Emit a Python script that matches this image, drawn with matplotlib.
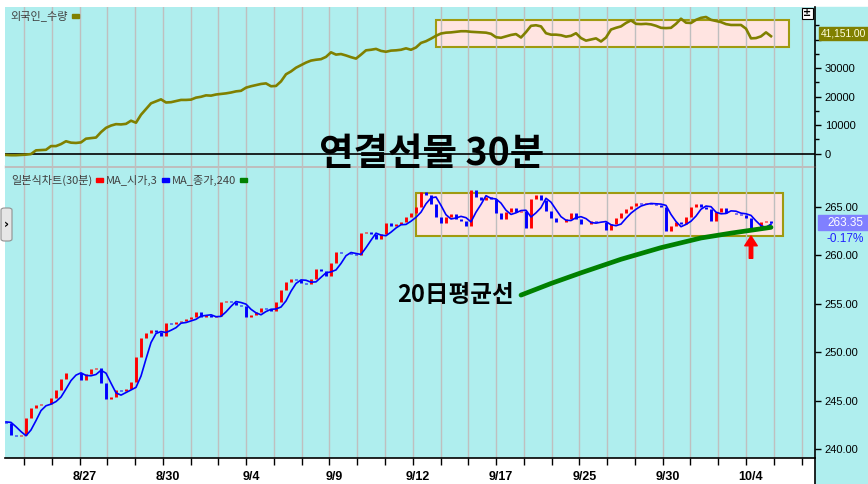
import numpy as np
import pandas as pd
import matplotlib
matplotlib.use('Agg')
import matplotlib.pyplot as plt
from matplotlib.patches import Rectangle, FancyBboxPatch
from matplotlib.lines import Line2D
from matplotlib.transforms import ScaledTranslation

plt.rcParams['font.family'] = ['Liberation Sans', 'Noto Sans CJK KR', 'DejaVu Sans']
KR = ['Noto Sans CJK KR', 'DejaVu Sans']

# ==========================================
# Data (one value per bar)
# ==========================================
closes = [
    242.7, 241.4, 241.3, 241.4, 243.2, 244.2, 244.5, 244.7, 244.7, 245.3,
    246.1, 247.2, 247.9, 247.8, 247.9, 247.1, 247.7, 248.3, 248.4, 246.8,
    245.2, 245.4, 246.1, 246.0, 246.2, 246.9, 249.5, 251.5, 252.0, 252.3,
    252.1, 251.7, 253.0, 252.9, 253.1, 253.2, 253.4, 253.6, 254.2, 253.6,
    253.8, 253.6, 253.7, 255.2, 255.3, 255.2, 254.9, 254.8, 253.6, 253.8,
    254.2, 254.6, 254.5, 254.3, 255.2, 256.4, 257.3, 257.6, 257.5, 257.2,
    257.0, 257.6, 258.6, 258.4, 257.9, 259.2, 260.4, 260.3, 260.2, 260.1,
    260.0, 262.3, 262.4, 262.2, 261.7, 262.2, 263.3, 263.0, 263.2, 263.4,
    264.0, 264.4, 265.0, 266.6, 266.2, 265.3, 264.0, 263.3, 264.0, 264.3,
    263.8, 263.6, 263.0, 266.8, 266.0, 265.7, 266.0, 265.8, 264.4, 263.8,
    264.5, 264.9, 264.5, 264.6, 262.8, 265.8, 266.2, 265.7, 264.6, 263.9,
    263.5, 263.5, 263.8, 264.4, 263.8, 263.2, 263.2, 263.6, 263.5, 263.4,
    262.6, 263.2, 263.9, 264.4, 264.8, 265.1, 265.4, 265.3, 265.4, 265.3,
    265.2, 265.0, 262.5, 263.0, 263.4, 263.2, 264.0, 265.0, 265.3, 265.0,
    264.8, 263.6, 264.5, 264.9, 264.4, 264.4, 264.3, 264.2, 263.9, 262.6,
    262.7, 263.4, 263.6, 263.35,
]

foreign = [
    -500, -600, -600, -500, -400, -200, 1100, 1200, 1300, 2600,
    2600, 3300, 4300, 3800, 3700, 3900, 5200, 5400, 5600, 7500,
    9000, 9800, 10300, 10200, 10400, 11500, 10800, 13600, 15600, 17600,
    18300, 19000, 17900, 18000, 18400, 18800, 18800, 18900, 19600, 19900,
    20400, 20300, 20700, 20900, 21100, 21400, 21800, 22000, 23100, 23600,
    24000, 24400, 24600, 23600, 23700, 25300, 27800, 28800, 30100, 31000,
    31900, 32600, 32900, 33100, 33900, 35500, 34700, 34900, 34400, 33800,
    33300, 34700, 36200, 36400, 36700, 36000, 35700, 36100, 36200, 36400,
    36900, 36400, 37200, 38800, 39400, 40300, 41300, 42100, 42400, 42500,
    42700, 42900, 42900, 42700, 42600, 42500, 42400, 42000, 40800, 40600,
    41100, 41600, 41900, 40700, 42600, 44800, 45000, 44600, 42200, 41700,
    41700, 41500, 41000, 41300, 42200, 40500, 39600, 40000, 40400, 39300,
    40700, 43500, 44100, 44600, 45800, 46700, 45500, 45400, 45500, 45300,
    44800, 44100, 44000, 44100, 45500, 47300, 45900, 45800, 46900, 47600,
    47900, 46900, 46500, 46100, 45400, 45100, 45100, 45100, 43800, 40400,
    40500, 41100, 42500, 41151,
]

ma240_bar = [103, 109, 115, 123, 131, 139, 145, 153]
ma240_val = [255.9, 257.1, 258.2, 259.6, 260.8, 261.8, 262.3, 262.9]

day_labels = ['8/27', '8/30', '9/4', '9/9', '9/12', '9/17', '9/25', '9/30', '10/4']
label_days = [2, 5, 8, 11, 14, 17, 20, 23, 26]
n_days = 29
first_day = 3.6
bars_per_day = 5.554

last_foreign = '41,151.00'
last_price = '263.35'
last_change = '-0.17%'

BG = '#AFEEEE'
OLIVE = '#808000'

# ==========================================
# Layout
# ==========================================
W, H = 868, 484
fig = plt.figure(figsize=(W / 100, H / 100), dpi=100)
fig.patch.set_facecolor('white')


def fx(px):
    return px / W


def fy(py):
    return 1 - py / H


def px_rect(x0, y0, x1, y1, **kw):
    return Rectangle((fx(x0), fy(y1)), (x1 - x0) / W, (y1 - y0) / H,
                     transform=fig.transFigure, **kw)


fig.add_artist(px_rect(815, 7, 868, 484, color=BG, zorder=-2))

ax1 = fig.add_axes([fx(5), fy(166), fx(815) - fx(5), fy(7) - fy(166)])
ax2 = fig.add_axes([fx(5), fy(458), fx(815) - fx(5), fy(168) - fy(458)], sharex=ax1)
fig.add_artist(px_rect(5, 165.5, 815, 168.5, color='#BEBEBE', zorder=-1))

x = np.arange(len(closes))
day_x = first_day + bars_per_day * np.arange(n_days)

for ax in (ax1, ax2):
    ax.set_facecolor(BG)
    ax.set_xticks(day_x[label_days])
    ax.set_xticks(day_x, minor=True)
    ax.grid(True, axis='x', which='both', color='#BFBFBF', lw=1.0)
    ax.yaxis.tick_right()
    ax.tick_params(axis='y', which='both', direction='out', length=4, width=1,
                   labelsize=8, pad=3, colors='black')
    for s in ('left', 'top'):
        ax.spines[s].set_visible(False)
    ax.spines['right'].set_color('black')
    ax.spines['right'].set_linewidth(1.2)
ax1.spines['bottom'].set_visible(False)
ax1.set_xlim(-0.2, 161.8)

# ---------- top panel: foreign position ----------
ax1.plot(x, foreign, color=OLIVE, lw=1.9, zorder=4)
ax1.axhline(0, color='black', lw=1.2, zorder=3)
ax1.set_ylim(-4386, 51404)
ax1.set_yticks([0, 10000, 20000, 30000, 40000])
ax1.set_yticklabels(['0', '10000', '20000', '30000', ''])
ax1.set_yticks([5000, 15000, 25000, 35000, 45000], minor=True)
ax1.tick_params(axis='y', which='minor', length=3)
ax1.tick_params(axis='x', which='both', length=0, labelbottom=False)
ax1.add_patch(Rectangle((86, 37400), 70.6, 9400, facecolor='#FFE4E1',
                        edgecolor='#A09A10', lw=1.5, zorder=1))

# ---------- lower panel: 30 min candles ----------
c = np.array(closes)
o = np.r_[c[0] + 0.1, c[:-1]]
up = c >= o
ax2.add_patch(Rectangle((82, 262.0), 73.4, 4.45, facecolor='#FFE4E1',
                        edgecolor='#A09A10', lw=1.5, zorder=1))
ax2.vlines(x[up], o[up], c[up], color='#FF0000', lw=2.1, zorder=3)
ax2.vlines(x[~up], o[~up], c[~up], color='#0000FF', lw=2.1, zorder=3)
ma_open = pd.Series(o).rolling(3, min_periods=1).mean()
ax2.plot(x, ma_open, color='#0000FF', lw=1.2, zorder=4)
ax2.plot(ma240_bar, ma240_val, color='#008000', lw=3.4, zorder=5,
         solid_capstyle='round')

ax2.set_ylim(239.07, 269.03)
ax2.set_yticks(np.arange(240, 266, 5))
ax2.set_yticklabels([f'{v:.2f}' for v in np.arange(240, 266, 5)])
ax2.set_xticklabels(day_labels)
ax2.tick_params(axis='x', which='both', direction='out', length=5, width=1,
                colors='black', pad=4)
for lbl in ax2.get_xticklabels():
    lbl.set_fontfamily(['Liberation Sans Narrow', 'Liberation Sans'])
    lbl.set_fontweight('bold')
    lbl.set_fontsize(9)
    lbl.set_transform(lbl.get_transform() + ScaledTranslation(0.05, 0, fig.dpi_scale_trans))
ax2.spines['top'].set_visible(False)
ax2.spines['bottom'].set_color('black')
ax2.spines['bottom'].set_linewidth(1.2)
fig.add_artist(Line2D([fx(815), fx(815)], [fy(458), 0], color='black', lw=1.2,
                      transform=fig.transFigure))

ax2.text(78.2, 255.9, '20日평균선', fontsize=17, fontweight='bold',
         family=KR, va='center', ha='left', zorder=6)
ax2.annotate('', xy=(149, 262.0), xytext=(149, 259.7),
             arrowprops=dict(facecolor='#FF0000', edgecolor='#FF0000',
                             width=2.5, headwidth=9, headlength=7, shrink=0),
             zorder=6)

# ---------- legends ----------
renderer = fig.canvas.get_renderer()


def legend_row(x0, y0, items):
    xp = x0
    for label, color in items:
        t = fig.text(fx(xp), fy(y0), label, fontsize=8, color='#404040',
                     family=KR, va='center', ha='left')
        bb = t.get_window_extent(renderer)
        xp += bb.width + 4
        fig.add_artist(px_rect(xp, y0 - 1.5, xp + 7, y0 + 1.5, color=color))
        xp += 10


legend_row(10, 16, [('외국인_수량', OLIVE)])
legend_row(11, 180, [('일본식차트(30분)', '#FF0000'), ('MA_시가,3', '#0000FF'),
                     ('MA_종가,240', '#008000')])

fig.text(fx(432), fy(154), '연결선물 30분', fontsize=27, fontweight='bold',
         family=KR, ha='center', va='center', color='black', zorder=10)

# ---------- right side value boxes ----------
fig.add_artist(px_rect(819, 27, 868, 40, color=OLIVE, zorder=5))
fig.text(fx(821), fy(33.5), last_foreign, fontsize=7.4, color='#FFFFE0',
         va='center', ha='left', zorder=6)
fig.add_artist(px_rect(818, 215, 868, 230, color='#8080FF', zorder=5))
fig.text(fx(845), fy(222.5), last_price, fontsize=8.5, color='white',
         va='center', ha='center', zorder=6)
fig.text(fx(845), fy(239), last_change, fontsize=8.5, color='#2020FF',
         va='center', ha='center', zorder=6)

# small widgets
fig.add_artist(FancyBboxPatch((fx(1), fy(241)), 11 / W, 33 / H,
                              boxstyle='round,pad=0,rounding_size=0.004',
                              fc='#E6E6E6', ec='#909090', lw=0.8,
                              transform=fig.transFigure, zorder=6))
fig.text(fx(6.5), fy(224), '›', fontsize=9, fontweight='bold', family='DejaVu Sans',
         ha='center', va='center', zorder=7)
fig.add_artist(px_rect(802, 8, 813, 19, fc='white', ec='black', lw=0.8, zorder=6))
fig.text(fx(807.5), fy(13.5), '±', fontsize=7, fontweight='bold', family='DejaVu Sans',
         ha='center', va='center', zorder=7)

fig.savefig('out.png', dpi=100, facecolor='white')
